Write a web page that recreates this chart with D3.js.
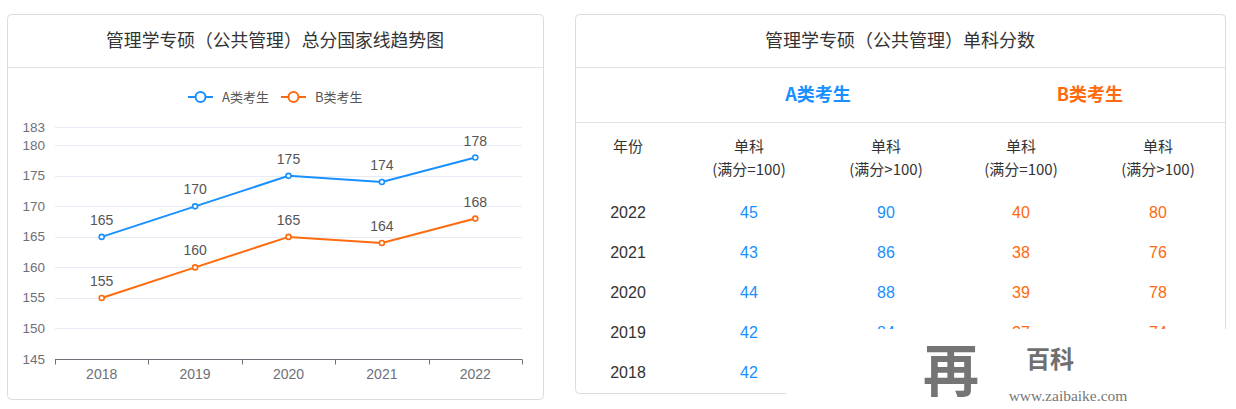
<!DOCTYPE html>
<html><head><meta charset="utf-8">
<script src="https://cdn.jsdelivr.net/npm/d3@7/dist/d3.min.js"></script>
<style>
html,body{margin:0;padding:0;background:#fff;}
svg{display:block;font-family:"Liberation Sans","Noto Sans CJK SC",sans-serif;}
</style></head>
<body><svg id="c" width="1236" height="409"></svg>
<script>
// ---- data ----
const lineYears = ["2018","2019","2020","2021","2022"];
const seriesA = [165,170,175,174,178];
const seriesB = [155,160,165,164,168];
const yTicks = [145,150,155,160,165,170,175,180,183];
const seriesNames = ["A类考生","B类考生"];

const tableYears = ["2022","2021","2020","2019","2018"];
const aEq100 = [45,43,44,42,42];
const aGt100 = [90,86,88,84,84];
const bEq100 = [40,38,39,37,37];
const bGt100 = [80,76,78,74,74];

const BLUE = "#1890ff", ORANGE = "#ff6a0d";
const CJK = "'Noto Sans CJK SC',sans-serif";
const svg = d3.select("#c");

// ---- left card ----
svg.append("rect").attr("x",7.5).attr("y",14.5).attr("width",536).attr("height",385).attr("rx",4)
  .attr("fill","#fff").attr("stroke","#dcdcdc");
svg.append("line").attr("x1",8).attr("x2",543).attr("y1",67.5).attr("y2",67.5).attr("stroke","#e2e2e2");
svg.append("text").attr("x",275).attr("y",47).attr("text-anchor","middle").attr("font-size",17.8)
  .attr("fill","#333").style("font-family",CJK).text("管理学专硕（公共管理）总分国家线趋势图");

const x = d3.scaleBand().domain(lineYears).range([55,522]);
const y = d3.scaleLinear().domain([145,183]).range([359,127]);

const g = svg.append("g");
g.selectAll(".grid").data(yTicks.filter(d=>d>145)).join("line")
  .attr("x1",55).attr("x2",522).attr("y1",d=>Math.round(y(d))+0.5).attr("y2",d=>Math.round(y(d))+0.5)
  .attr("stroke","#e6ebf5");
g.selectAll(".yl").data(yTicks).join("text")
  .attr("x",45).attr("y",d=>y(d)+4.5).attr("text-anchor","end").attr("font-size",13.5).attr("fill","#6e7079")
  .text(d=>d);

const ax = svg.append("g").attr("transform","translate(0,359.5)");
ax.append("line").attr("x1",55).attr("x2",522).attr("stroke","#6e7079");
const bounds = lineYears.map(d=>x(d)).concat([x.range()[1]]);
ax.selectAll(".tk").data(bounds).join("line").attr("x1",d=>Math.round(d)+0.5).attr("x2",d=>Math.round(d)+0.5)
  .attr("y1",0).attr("y2",5).attr("stroke","#6e7079");
ax.selectAll(".xl").data(lineYears).join("text")
  .attr("x",d=>x(d)+x.bandwidth()/2).attr("y",19).attr("text-anchor","middle").attr("font-size",14)
  .attr("fill","#6e7079").text(d=>d);

const line = d3.line().x((d,i)=>x(lineYears[i])+x.bandwidth()/2).y(d=>y(d));
[[seriesA,BLUE],[seriesB,ORANGE]].forEach(([s,c])=>{
  svg.append("path").datum(s).attr("d",line).attr("fill","none").attr("stroke",c).attr("stroke-width",2);
  svg.selectAll(null).data(s).join("circle")
    .attr("cx",(d,i)=>x(lineYears[i])+x.bandwidth()/2).attr("cy",d=>y(d)).attr("r",2.5)
    .attr("fill","#fff").attr("stroke",c).attr("stroke-width",1.6);
  svg.selectAll(null).data(s).join("text")
    .attr("x",(d,i)=>x(lineYears[i])+x.bandwidth()/2).attr("y",d=>y(d)-12).attr("text-anchor","middle")
    .attr("font-size",14).attr("fill","#555").text(d=>d);
});

// legend
const leg = [{n:seriesNames[0],c:BLUE,x:188},{n:seriesNames[1],c:ORANGE,x:281}];
leg.forEach(l=>{
  svg.append("line").attr("x1",l.x).attr("x2",l.x+25).attr("y1",97).attr("y2",97).attr("stroke",l.c).attr("stroke-width",2);
  svg.append("circle").attr("cx",l.x+12.5).attr("cy",97).attr("r",5).attr("fill","#fff").attr("stroke",l.c).attr("stroke-width",2);
  svg.append("text").attr("x",l.x+34).attr("y",101.5).attr("font-size",13).attr("fill","#555")
    .style("font-family",CJK).text(l.n);
});

// ---- right card ----
svg.append("rect").attr("x",575.5).attr("y",14.5).attr("width",650).attr("height",379).attr("rx",4)
  .attr("fill","#fff").attr("stroke","#dcdcdc");
[67.5,122.5].forEach(yy=>svg.append("line").attr("x1",576).attr("x2",1225).attr("y1",yy).attr("y2",yy).attr("stroke","#e2e2e2"));
svg.append("text").attr("x",900).attr("y",47).attr("text-anchor","middle").attr("font-size",18)
  .attr("fill","#333").style("font-family",CJK).text("管理学专硕（公共管理）单科分数");
svg.append("text").attr("x",818).attr("y",101).attr("text-anchor","middle").attr("font-size",18).attr("font-weight","bold")
  .attr("fill",BLUE).style("font-family",CJK).text(seriesNames[0]);
svg.append("text").attr("x",1090).attr("y",101).attr("text-anchor","middle").attr("font-size",18).attr("font-weight","bold")
  .attr("fill",ORANGE).style("font-family",CJK).text(seriesNames[1]);

const colX = [628,749,886,1021,1158];
svg.append("text").attr("x",colX[0]).attr("y",151.5).attr("text-anchor","middle").attr("font-size",15)
  .attr("fill","#333").style("font-family",CJK).text("年份");
["(满分=100)","(满分>100)","(满分=100)","(满分>100)"].forEach((t,i)=>{
  svg.append("text").attr("x",colX[i+1]).attr("y",151.5).attr("text-anchor","middle").attr("font-size",15)
    .attr("fill","#333").style("font-family",CJK).text("单科");
  svg.append("text").attr("x",colX[i+1]).attr("y",174.5).attr("text-anchor","middle").attr("font-size",15)
    .attr("fill","#333").style("font-family",CJK).text(t);
});
const rowY = d3.scalePoint().domain(tableYears).range([212,372]);
const cols = [[tableYears,"#333"],[aEq100,BLUE],[aGt100,BLUE],[bEq100,ORANGE],[bGt100,ORANGE]];
cols.forEach(([arr,c],ci)=>{
  svg.selectAll(null).data(arr).join("text")
    .attr("x",colX[ci]).attr("y",(d,i)=>rowY(tableYears[i])+6).attr("text-anchor","middle")
    .attr("font-size",16).attr("fill",c).text(d=>d);
});

// ---- watermark ----
svg.append("rect").attr("x",786).attr("y",336).attr("width",450).attr("height",73).attr("fill","#fff");
svg.append("rect").attr("x",845).attr("y",329).attr("width",391).attr("height",10).attr("fill","#fff");
svg.append("text").attr("x",951).attr("y",391).attr("text-anchor","middle").attr("font-size",56).attr("font-weight","bold")
  .attr("fill","#757575").style("font-family","'Noto Sans CJK SC',serif").text("再");
svg.append("text").attr("x",1050).attr("y",368).attr("text-anchor","middle").attr("font-size",24).attr("font-weight","bold")
  .attr("fill","#6f6f6f").style("font-family",CJK).text("百科");
svg.append("text").attr("x",1068).attr("y",401).attr("text-anchor","middle").attr("font-size",15.5)
  .attr("fill","#777").style("font-family","'Liberation Serif',serif").text("www.zaibaike.com");
</script></body></html>
